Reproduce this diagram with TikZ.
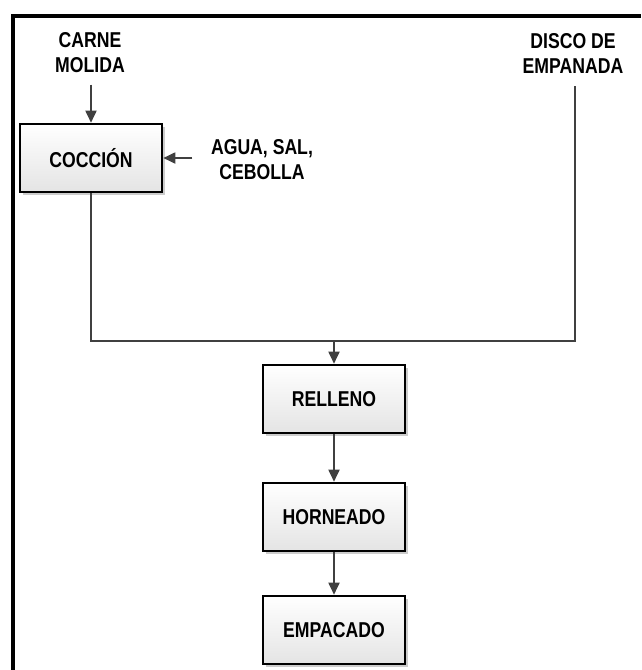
\documentclass[tikz,border=0pt]{standalone}
\usepackage{fontspec}
\newfontfamily\diagfont{Liberation Sans}[FakeStretch=0.82]
\usetikzlibrary{calc,arrows.meta,shadows}
\definecolor{ink}{HTML}{404040}
\definecolor{boxlow}{HTML}{E4E4E4}
\tikzset{
  frame/.style={draw=black, line width=4pt},
  proc/.style={draw=black, line width=2.6pt, minimum width=142pt, minimum height=68pt,
    top color=white, bottom color=boxlow,
    drop shadow={shadow xshift=3pt, shadow yshift=-3pt, fill=black!20, opacity=1},
    font=\diagfont\bfseries\fontsize{21.5}{25}\selectfont},
  lab/.style={inner sep=0pt, align=center, font=\diagfont\bfseries\fontsize{21.5}{25}\selectfont},
  flow/.style={draw=ink, line width=1.8pt, -{Triangle[length=12pt,width=11pt]}},
  link/.style={draw=ink, line width=1.8pt},
}
\begin{document}
\begin{tikzpicture}[x=1pt,y=-1pt]
  \useasboundingbox (0,0) rectangle (641,670);
  \draw[frame] (13,670) -- (13,15.5) -- (641,15.5);

  \node[lab] (carne) at (90,53) {CARNE\\MOLIDA};
  \node[lab] (disco) at (573,53) {DISCO DE\\EMPANADA};
  \node[lab] (agua) at (262,160) {AGUA, SAL,\\CEBOLLA};

  \node[proc] (coccion) at (91,158) {COCCIÓN};
  \node[proc] (relleno) at (334,399) {RELLENO};
  \node[proc] (horneado) at (334,517) {HORNEADO};
  \node[proc] (empacado) at (334,630) {EMPACADO};
  \coordinate (join) at (334,341);

  \draw[flow] ($(coccion.north)+(0,-38)$) -- (coccion.north);
  \draw[flow] ($(coccion.east)+(29,0)$) -- (coccion.east);
  \draw[link] (coccion.south) |- (join) -| ($(disco.south)+(2,13)$);
  \draw[flow] (join) -- (relleno.north);
  \draw[flow] (relleno.south) -- (horneado.north);
  \draw[flow] (horneado.south) -- (empacado.north);
\end{tikzpicture}
\end{document}
